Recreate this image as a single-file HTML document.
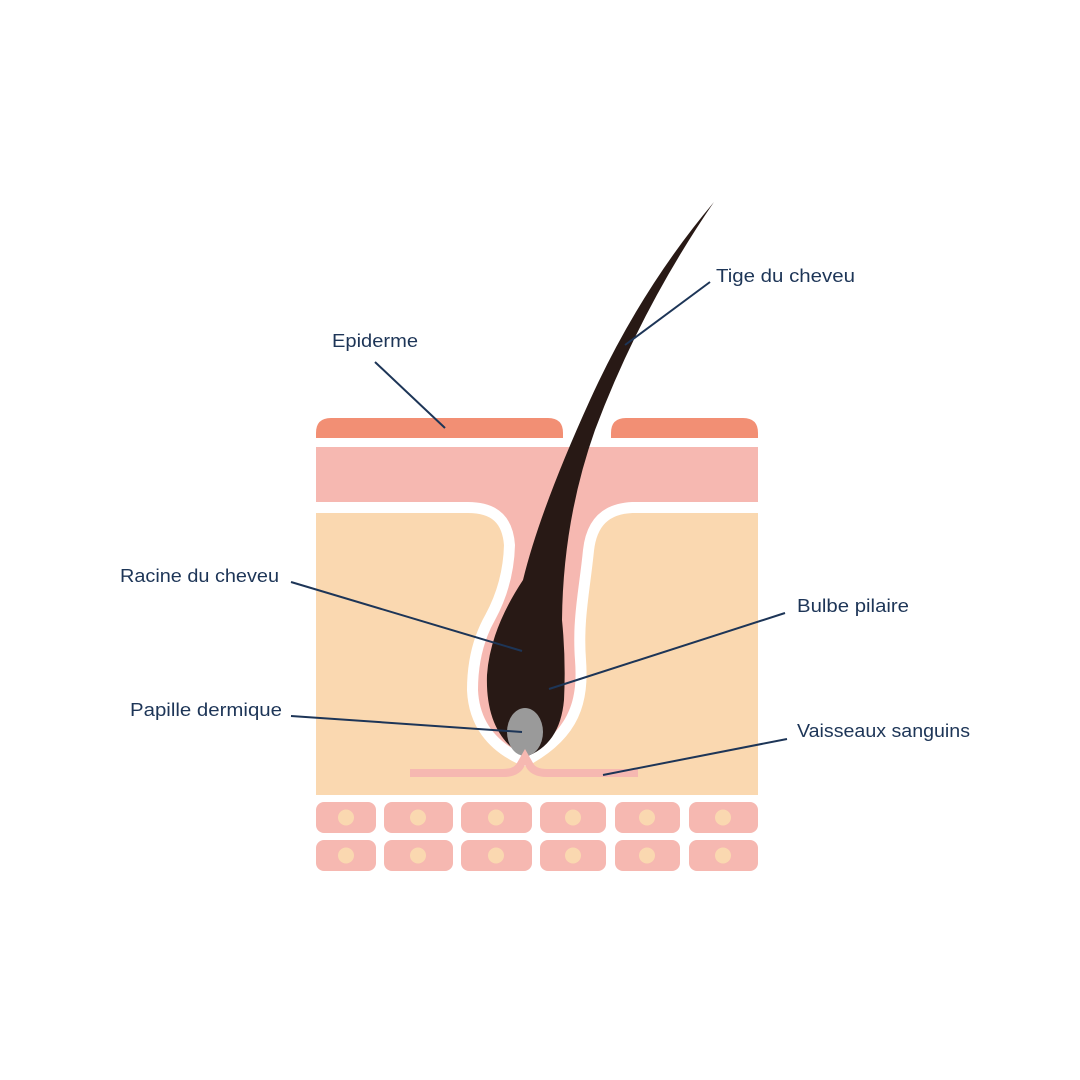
<!DOCTYPE html>
<html><head><meta charset="utf-8"><style>html,body{margin:0;padding:0;background:#fff}svg{display:block}</style></head>
<body>
<svg width="1080" height="1080" viewBox="0 0 1080 1080" xmlns="http://www.w3.org/2000/svg">
<rect width="1080" height="1080" fill="#fff"/>
<rect x="316" y="513" width="442" height="282" fill="#fad8b0"/>
<path d="M316,447 H758 V502 H632 Q588,504 583,550 C579,590 572,620 575,660 C578,700 570,730 525,755 Q480,735 478,690 Q478,650 495,620 Q514,585 515,545 Q512,502 468,502 H316 Z" fill="none" stroke="#fff" stroke-width="22" stroke-linejoin="round"/>
<rect x="300" y="438" width="480" height="9" fill="#fff"/>
<rect x="300" y="447" width="16" height="360" fill="#fff"/>
<rect x="758" y="447" width="16" height="360" fill="#fff"/>
<path d="M316,447 H758 V502 H632 Q588,504 583,550 C579,590 572,620 575,660 C578,700 570,730 525,755 Q480,735 478,690 Q478,650 495,620 Q514,585 515,545 Q512,502 468,502 H316 Z" fill="#f6b8b1"/>
<path d="M316,438 V433 Q316,418 331,418 H548 Q563,418 563,433 V438 Z" fill="#f28f74"/>
<path d="M611,438 V433 Q611,418 626,418 H743 Q758,418 758,433 V438 Z" fill="#f28f74"/>
<path d="M714,202 Q640,290 590,400 Q540,510 523,580 Q490,630 487,675 Q485,735 525,757 Q560,745 564,700 Q566,660 562,620 Q563,520 595,430 Q640,310 714,202 Z" fill="#281915"/>
<ellipse cx="525" cy="732" rx="18" ry="24" fill="#9a9a9a"/>
<path d="M410,773 H503 Q517,773 521,764 L525,757 L529,764 Q533,773 547,773 H638" fill="none" stroke="#f6b8b1" stroke-width="8"/>
<g fill="#f6b8b1">
<rect x="316" y="802" width="60" height="31" rx="8"/><rect x="384" y="802" width="69" height="31" rx="8"/><rect x="461" y="802" width="71" height="31" rx="8"/><rect x="540" y="802" width="66" height="31" rx="8"/><rect x="615" y="802" width="65" height="31" rx="8"/><rect x="689" y="802" width="69" height="31" rx="8"/>
<rect x="316" y="840" width="60" height="31" rx="8"/><rect x="384" y="840" width="69" height="31" rx="8"/><rect x="461" y="840" width="71" height="31" rx="8"/><rect x="540" y="840" width="66" height="31" rx="8"/><rect x="615" y="840" width="65" height="31" rx="8"/><rect x="689" y="840" width="69" height="31" rx="8"/>
</g>
<g fill="#fad8b0">
<circle cx="346" cy="817.5" r="8"/><circle cx="418" cy="817.5" r="8"/><circle cx="496" cy="817.5" r="8"/><circle cx="573" cy="817.5" r="8"/><circle cx="647" cy="817.5" r="8"/><circle cx="723" cy="817.5" r="8"/>
<circle cx="346" cy="855.5" r="8"/><circle cx="418" cy="855.5" r="8"/><circle cx="496" cy="855.5" r="8"/><circle cx="573" cy="855.5" r="8"/><circle cx="647" cy="855.5" r="8"/><circle cx="723" cy="855.5" r="8"/>
</g>
<g stroke="#1d3557" stroke-width="2" fill="none">
<line x1="710" y1="282" x2="625" y2="345"/>
<line x1="375" y1="362" x2="445" y2="428"/>
<line x1="291" y1="582" x2="522" y2="651"/>
<line x1="785" y1="613" x2="549" y2="689"/>
<line x1="291" y1="716" x2="522" y2="732"/>
<line x1="787" y1="739" x2="603" y2="775"/>
</g>
<g fill="#1d3557" font-family="Liberation Sans, sans-serif" font-size="18">
<text x="716" y="282" textLength="139" lengthAdjust="spacingAndGlyphs">Tige du cheveu</text>
<text x="332" y="347" textLength="86" lengthAdjust="spacingAndGlyphs">Epiderme</text>
<text x="120" y="582" textLength="159" lengthAdjust="spacingAndGlyphs">Racine du cheveu</text>
<text x="797" y="612" textLength="112" lengthAdjust="spacingAndGlyphs">Bulbe pilaire</text>
<text x="130" y="716" textLength="152" lengthAdjust="spacingAndGlyphs">Papille dermique</text>
<text x="797" y="737" textLength="173" lengthAdjust="spacingAndGlyphs">Vaisseaux sanguins</text>
</g>
</svg>
</body></html>
